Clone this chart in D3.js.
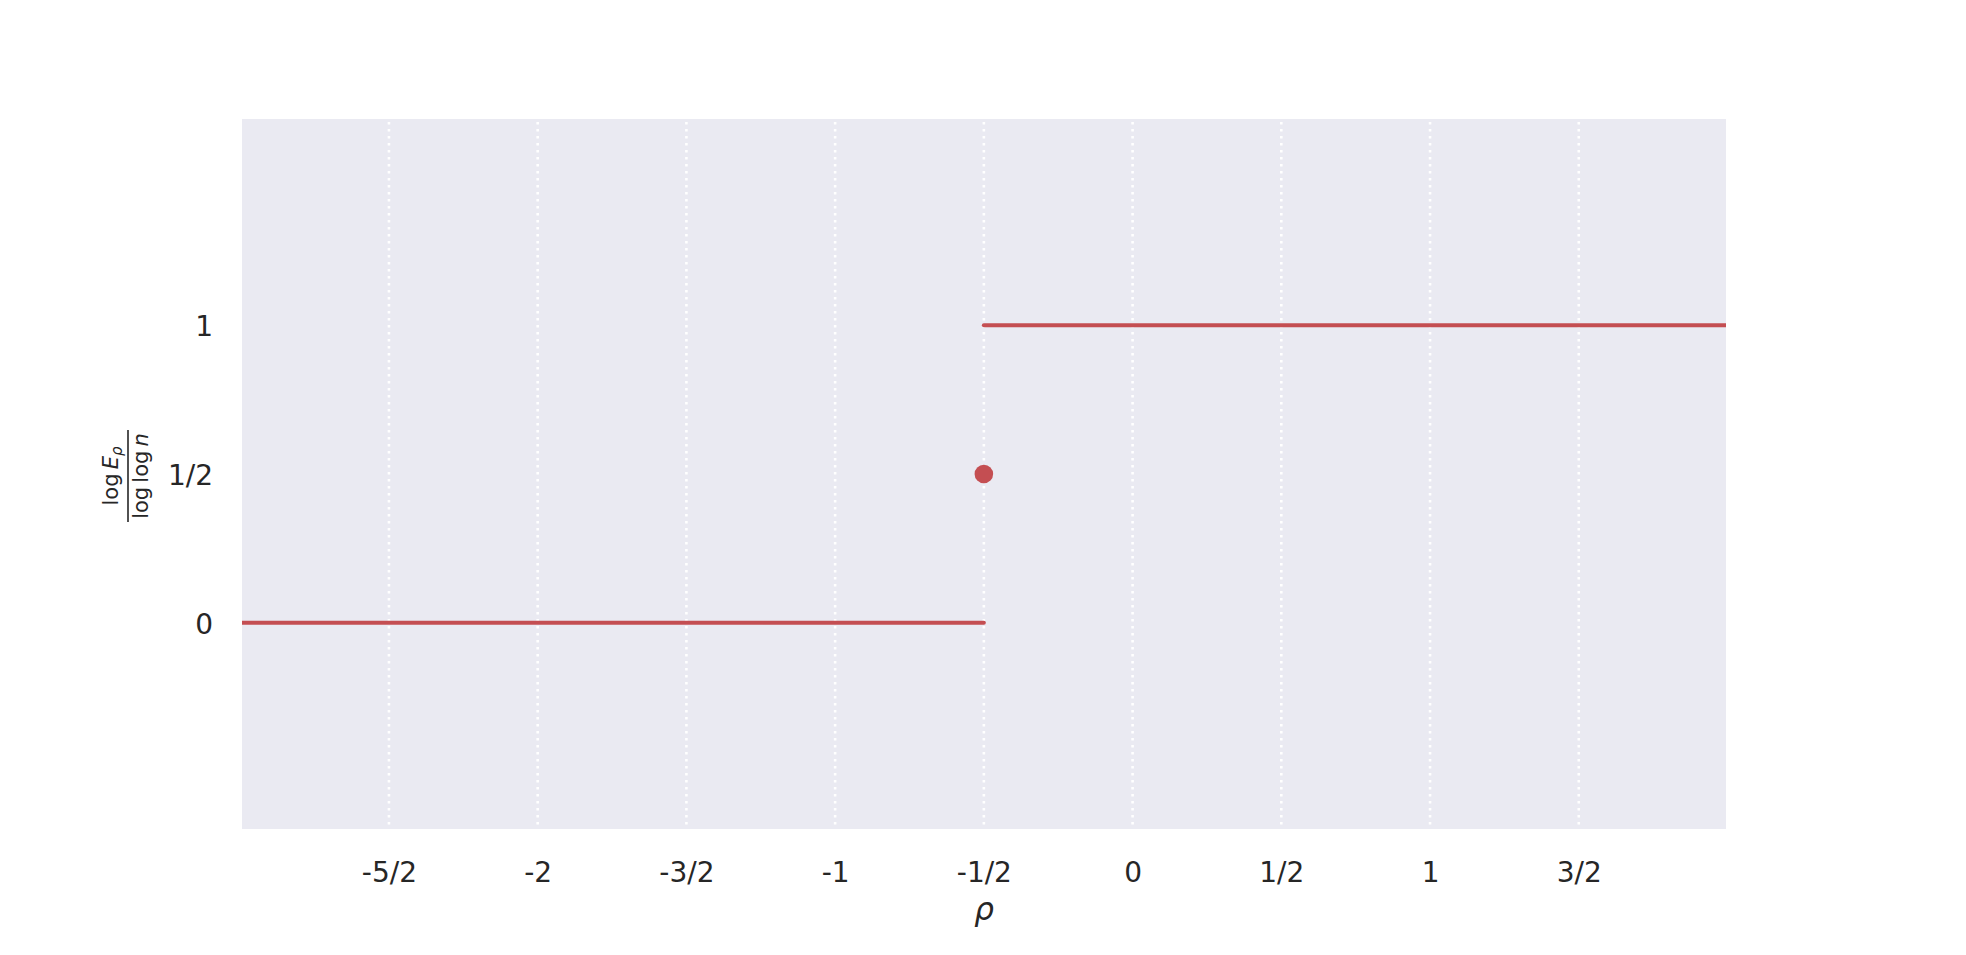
<!DOCTYPE html>
<html>
<head>
<meta charset="utf-8">
<script src="https://cdn.jsdelivr.net/npm/d3@7"></script>
<style>
  html, body { margin: 0; padding: 0; background: #ffffff; }
  svg { display: block; }
  text { font-family: "DejaVu Sans", sans-serif; fill: #262626; }
</style>
</head>
<body>
<script>
// ---- data ----
const xTicks = [-2.5, -2, -1.5, -1, -0.5, 0, 0.5, 1, 1.5];
const xTickLabels = ["-5/2", "-2", "-3/2", "-1", "-1/2", "0", "1/2", "1", "3/2"];
const yTicks = [0, 0.5, 1];
const yTickLabels = ["0", "1/2", "1"];
const xDomain = [-2.994, 1.995];
const yDomain = [-0.693, 1.693];
const lowSegmentX = [-3, -0.5];
const lowSegmentY = [0, 0];
const highSegmentX = [-0.5, 2];
const highSegmentY = [1, 1];
const jumpPointX = [-0.5];
const jumpPointY = [0.5];

// ---- layout ----
const W = 1966, H = 955;
const plot = { left: 242, top: 119, right: 1726, bottom: 829 };
const red = "#c44e52";

const svg = d3.select("body").append("svg").attr("width", W).attr("height", H);

const x = d3.scaleLinear().domain(xDomain).range([plot.left, plot.right]);
const y = d3.scaleLinear().domain(yDomain).range([plot.bottom, plot.top]);

svg.append("rect")
  .attr("x", plot.left).attr("y", plot.top)
  .attr("width", plot.right - plot.left).attr("height", plot.bottom - plot.top)
  .attr("fill", "#eaeaf2");

svg.append("defs").append("clipPath").attr("id", "clip")
  .append("rect")
  .attr("x", plot.left).attr("y", plot.top)
  .attr("width", plot.right - plot.left).attr("height", plot.bottom - plot.top);

// vertical dotted grid
svg.append("g").selectAll("line").data(xTicks).join("line")
  .attr("x1", d => x(d)).attr("x2", d => x(d))
  .attr("y1", plot.top + 3).attr("y2", plot.bottom)
  .attr("stroke", "#ffffff").attr("stroke-width", 2.6)
  .attr("stroke-dasharray", "2.6 4.4");

// x axis
const xAxis = d3.axisBottom(x).tickValues(xTicks)
  .tickFormat((d, i) => xTickLabels[i]).tickSize(0).tickPadding(33);
const gx = svg.append("g").attr("transform", `translate(0,${plot.bottom})`).call(xAxis);
gx.select(".domain").remove();
gx.selectAll("text").attr("font-size", 28).attr("font-family", "DejaVu Sans").attr("fill", "#262626");

// y axis
const yAxis = d3.axisLeft(y).tickValues(yTicks)
  .tickFormat((d, i) => yTickLabels[i]).tickSize(0).tickPadding(29);
const gy = svg.append("g").attr("transform", `translate(${plot.left},0)`).call(yAxis);
gy.select(".domain").remove();
gy.selectAll("text").attr("font-size", 28).attr("font-family", "DejaVu Sans").attr("fill", "#262626")
  .attr("dy", "0.38em");

// data lines
const line = d3.line().x(d => x(d[0])).y(d => y(d[1]));
const gData = svg.append("g").attr("clip-path", "url(#clip)");
gData.append("path")
  .attr("d", line(lowSegmentX.map((v, i) => [v, lowSegmentY[i]])))
  .attr("fill", "none").attr("stroke", red).attr("stroke-width", 4).attr("stroke-linecap", "round");
gData.append("path")
  .attr("d", line(highSegmentX.map((v, i) => [v, highSegmentY[i]])))
  .attr("fill", "none").attr("stroke", red).attr("stroke-width", 4).attr("stroke-linecap", "round");
gData.selectAll("circle").data(jumpPointX.map((v, i) => [v, jumpPointY[i]])).join("circle")
  .attr("cx", d => x(d[0])).attr("cy", d => y(d[1])).attr("r", 9.3).attr("fill", red);

// x label
svg.append("text")
  .attr("x", (plot.left + plot.right) / 2).attr("y", 920)
  .attr("text-anchor", "middle")
  .attr("font-size", 31).attr("font-style", "italic")
  .text("ρ");

// y label: fraction log E_ρ / log log n, rotated
const yl = svg.append("g")
  .attr("transform", `translate(128,476) rotate(-90)`);
const num = yl.append("text").attr("x", 0).attr("y", -10).attr("text-anchor", "middle").attr("font-size", 21);
num.append("tspan").text("log\u2009");
num.append("tspan").attr("font-style", "italic").text("E");
num.append("tspan").attr("font-style", "italic").attr("font-size", 15).attr("dy", 4).text("ρ");
yl.append("line").attr("x1", -46).attr("x2", 46).attr("y1", 0).attr("y2", 0)
  .attr("stroke", "#262626").attr("stroke-width", 1.6);
const den = yl.append("text").attr("x", 0).attr("y", 20).attr("text-anchor", "middle").attr("font-size", 21);
den.append("tspan").text("log\u2009log\u2009");
den.append("tspan").attr("font-style", "italic").text("n");
</script>
</body>
</html>
